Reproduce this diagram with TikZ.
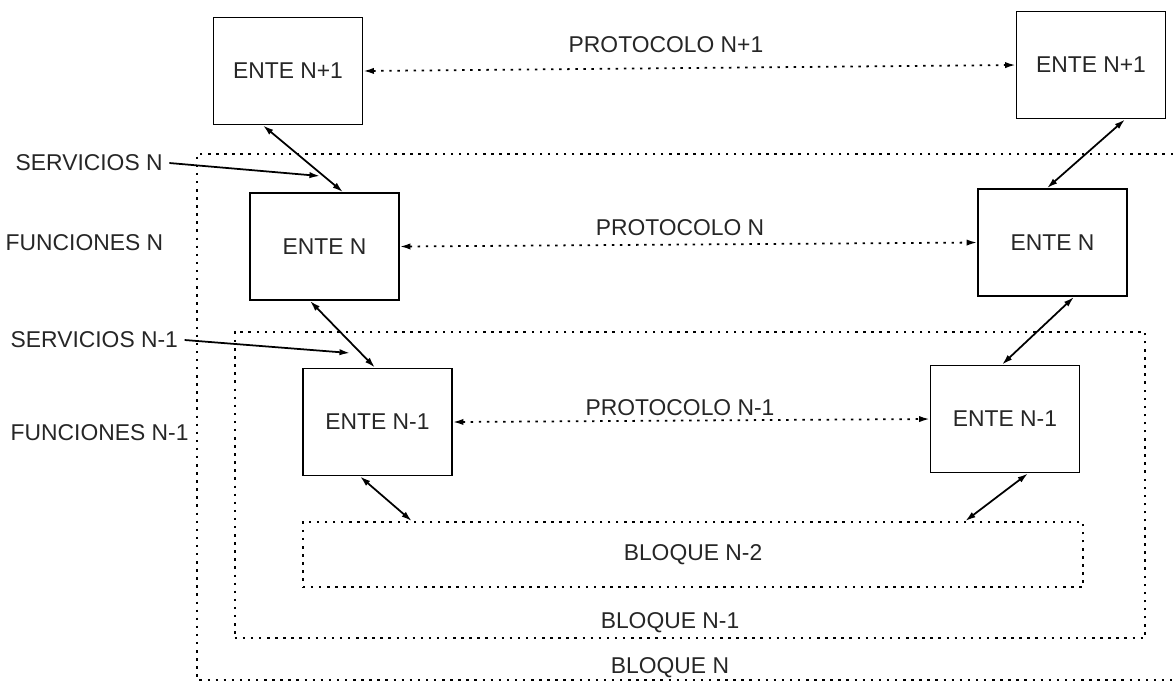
\documentclass[tikz,border=0pt]{standalone}
\usepackage{fontspec}
\setmainfont{Liberation Sans}
\usetikzlibrary{arrows.meta,calc}
\begin{document}
\begin{tikzpicture}[x=0.01cm,y=-0.01cm,
  every node/.style={font=\fontsize{6.5}{7.5}\selectfont, text=black!85},
  ente/.style={draw, line width=0.5pt, minimum width=1.49cm, minimum height=1.07cm, inner sep=0pt},
  bloque/.style={draw, line width=0.5pt, dash pattern=on 0.7pt off 1.6pt, inner sep=0pt},
  proto/.style={line width=0.5pt, dash pattern=on 0.7pt off 1.6pt, {Latex[length=3pt,width=1.8pt]}-{Latex[length=3pt,width=1.8pt]}},
  conn/.style={line width=0.5pt, {Latex[length=3pt,width=1.8pt]}-{Latex[length=3pt,width=1.8pt]}},
  sarrow/.style={line width=0.5pt, -{Latex[length=3pt,width=1.8pt]}},
  lbl/.style={inner sep=0pt}
]
\useasboundingbox (0,0) rectangle (1173,690);

% Bloque N (cut by the right edge)
\coordinate (bnTR) at (1173,154);
\coordinate (bnTL) at (197,154);
\coordinate (bnBL) at (197,680);
\coordinate (bnBR) at (1173,680);
\draw[line width=0.5pt, dash pattern=on 0.7pt off 1.6pt] (bnTR) -- (bnTL) -- (bnBL) -- (bnBR);

% Bloques
\node[bloque, minimum width=9.10cm, minimum height=3.06cm] (bn1) at (690,485) {};
\node[bloque, minimum width=7.80cm, minimum height=0.65cm] (bn2) at (693,554.5) {BLOQUE N-2};

% Entes
\node[ente] (a1) at (288,71) {ENTE N+1};
\node[ente] (b1) at (1091,65) {ENTE N+1};
\node[ente] (a2) at (324.5,246.5) {ENTE N};
\node[ente] (b2) at (1052.5,242.5) {ENTE N};
\node[ente] (a3) at (377.5,422) {ENTE N-1};
\node[ente] (b3) at (1005,419) {ENTE N-1};

% Protocolos
\draw[proto] (a1.east) -- (b1.west);
\draw[proto] (a2.east) -- (b2.west);
\draw[proto] (a3.east) -- (b3.west);
\node[lbl] (p1) at (666,45) {PROTOCOLO N+1};
\node[lbl] (p2) at (680,228) {PROTOCOLO N};
\node[lbl] (p3) at (680,408) {PROTOCOLO N-1};

% Vertical connectors
\draw[conn] ([xshift=-0.25cm]a1.south) -- ([xshift=0.185cm]a2.north);
\draw[conn] ([xshift=0.34cm]b1.south) -- ([xshift=-0.055cm]b2.north);
\draw[conn] ([xshift=-0.145cm]a2.south) -- ([xshift=-0.025cm]a3.north);
\draw[conn] ([xshift=0.215cm]b2.south) -- ([xshift=-0.03cm]b3.north);
\draw[conn] ([xshift=-0.175cm]a3.south) -- ([xshift=-2.81cm]bn2.north);
\draw[conn] ([xshift=0.23cm]b3.south) -- ([xshift=2.72cm]bn2.north);

% Left labels
\node[lbl, anchor=west] (sn) at (15,163) {SERVICIOS N};
\node[lbl, anchor=west] (fn) at (5,243) {FUNCIONES N};
\node[lbl, anchor=west] (sn1) at (10,340) {SERVICIOS N-1};
\node[lbl, anchor=west] (fn1) at (10,433) {FUNCIONES N-1};
\coordinate (snt) at (320,176);
\coordinate (sn1t) at (350,353);
\draw[sarrow] ([xshift=0.06cm]sn.east) -- (snt);
\draw[sarrow] ([xshift=0.06cm]sn1.east) -- (sn1t);

% Bloque labels
\node[lbl] (lbn1) at (670,623) {BLOQUE N-1};
\node[lbl] (lbn) at (670,668) {BLOQUE N};
\end{tikzpicture}
\end{document}
